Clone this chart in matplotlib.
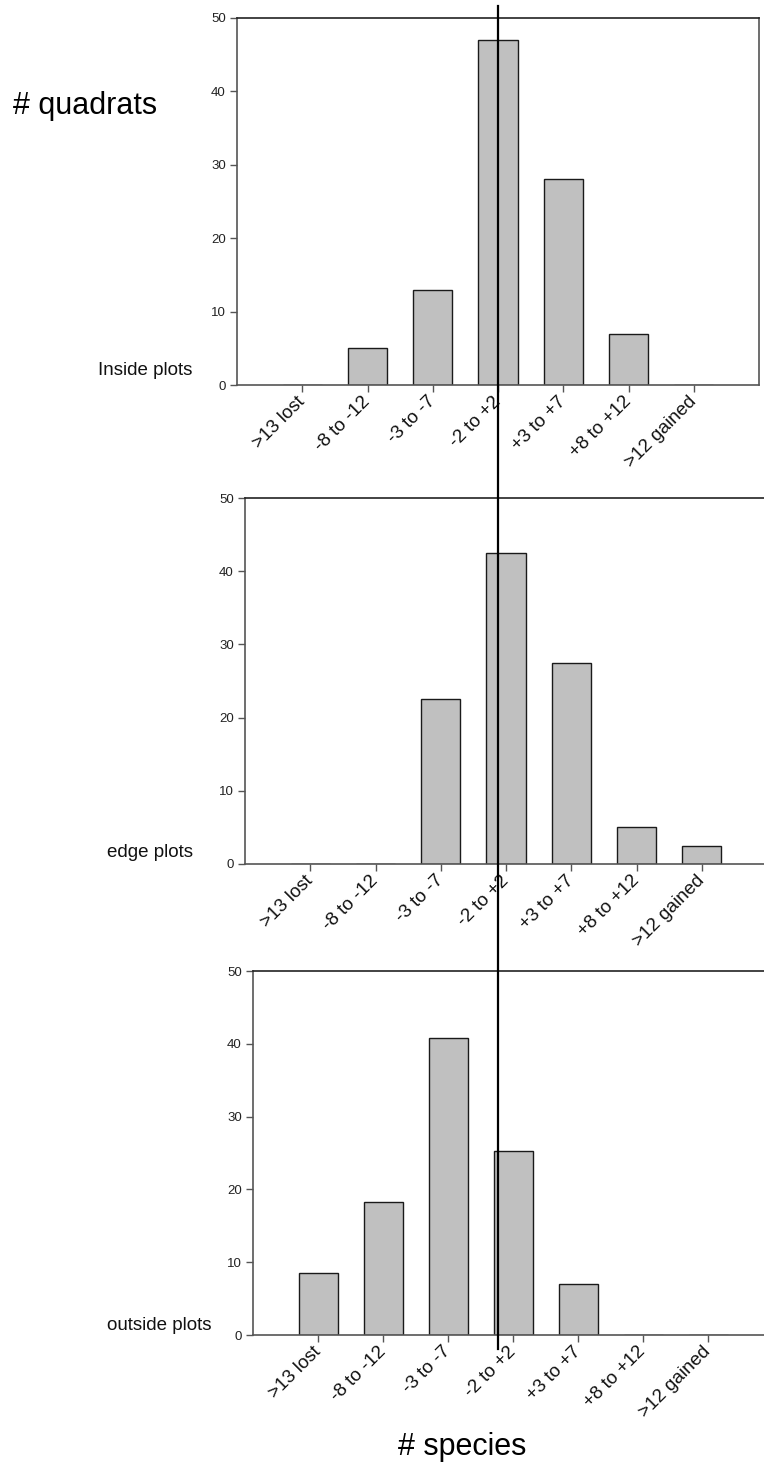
import numpy as np
import matplotlib
matplotlib.use("Agg")
from matplotlib import pyplot as plt
from matplotlib.lines import Line2D

plt.rcParams['font.family'] = ['Liberation Sans', 'DejaVu Sans']

# =============================================================================
# DATA
# =============================================================================
categories = ['>13 lost', '-8 to -12', '-3 to -7', '-2 to +2',
              '+3 to +7', '+8 to +12', '>12 gained']
inside_vals = [0, 5, 13, 47, 28, 7, 0]
edge_vals = [0, 0, 22.5, 42.5, 27.5, 5, 2.5]
outside_vals = [8.5, 18.3, 40.8, 25.3, 7, 0, 0]
panel_names = ['Inside plots', 'edge plots', 'outside plots']
yticks = [0, 10, 20, 30, 40, 50]

# =============================================================================
# FIGURE
# =============================================================================
W, H = 764, 1468
fig = plt.figure(figsize=(W / 100, H / 100), dpi=100)

def px(left, top, right, bottom):
    return [left / W, 1 - bottom / H, (right - left) / W, (bottom - top) / H]

# axes boxes in pixels (left, top, right, bottom)
boxes = [(237, 18, 759, 385), (245, 498, 767, 864), (253, 971, 773, 1335)]
label_pos = [(98, 375), (107, 857), (107, 1330)]
data = [inside_vals, edge_vals, outside_vals]

axes = []
x = np.arange(len(categories))
for i, (vals, box) in enumerate(zip(data, boxes)):
    ax = fig.add_axes(px(*box))
    ax.bar(x, vals, width=0.6, color='#c0c0c0', edgecolor='#1a1a1a',
           linewidth=1.0, zorder=2)
    ax.set_xlim(-1, 7)
    ax.set_ylim(0, 50)
    ax.set_yticks(yticks)
    ax.set_xticks(x)
    ax.set_xticklabels(categories, rotation=45, ha='right', va='center',
                       rotation_mode='anchor', fontsize=13.5, color='#111111')
    ax.tick_params(axis='y', labelsize=9.5, length=5, width=1,
                   color='#555555', labelcolor='#222222', pad=3)
    ax.tick_params(axis='x', length=5, width=1, color='#555555', pad=5)
    for s in ['left', 'bottom', 'right']:
        ax.spines[s].set_color('#555555')
        ax.spines[s].set_linewidth(1.2)
    ax.spines['top'].set_color('#222222')
    ax.spines['top'].set_linewidth(1.2)
    lx, ly = label_pos[i]
    fig.text(lx / W, 1 - ly / H, panel_names[i], fontsize=13.5,
             ha='left', va='baseline', color='#111111')
    axes.append(ax)

# big axis labels
fig.text(13 / W, 1 - 114 / H, '# quadrats', fontsize=22, ha='left',
         va='baseline')
fig.text(462 / W, 1 - 1455 / H, '# species', fontsize=22, ha='center',
         va='baseline')

# vertical reference line through the '-2 to +2' class of the top panel
fig.canvas.draw()
xline = axes[0].transData.transform((3, 0))[0] / W
fig.add_artist(Line2D([xline, xline], [1 - 6 / H, 1 - 1349 / H],
                      transform=fig.transFigure, color='black', lw=1.6,
                      zorder=10))

fig.savefig('out.png', dpi=100)
